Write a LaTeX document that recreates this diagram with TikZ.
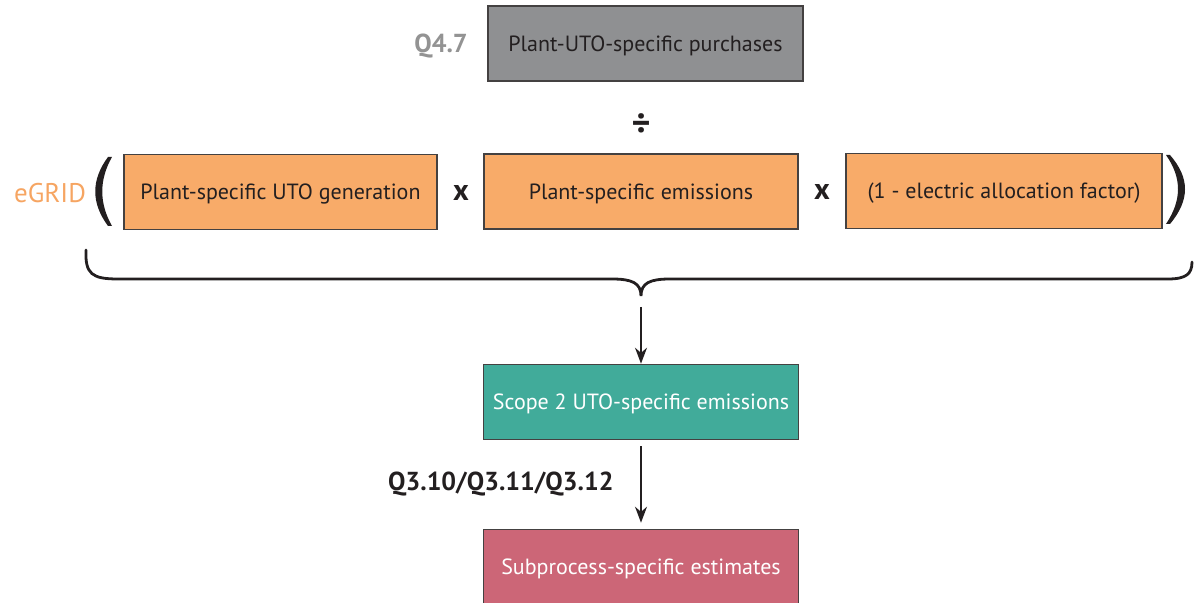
\documentclass[tikz,border=0pt]{standalone}
\usepackage{fontspec}
\setmainfont{PT Sans}
\usetikzlibrary{arrows.meta}
\definecolor{boxgray}{HTML}{8F9092}
\definecolor{boxorange}{HTML}{F8AB69}
\definecolor{boxteal}{HTML}{41AB9A}
\definecolor{boxpink}{HTML}{CC6677}
\definecolor{labgray}{HTML}{939393}
\definecolor{laborange}{HTML}{F6A562}
\definecolor{ink}{HTML}{231F20}
\tikzset{
  box/.style={draw=ink!85, line width=0.8pt, minimum height=37.5pt, inner sep=0pt, text height=8pt, text depth=0pt, font=\fontsize{11}{12}\selectfont, text=ink},
  graybox/.style={box, fill=boxgray},
  orangebox/.style={box, fill=boxorange},
  tealbox/.style={box, fill=boxteal, text=white},
  pinkbox/.style={box, fill=boxpink, text=white},
  oper/.style={font=\fontsize{15}{15}\bfseries\selectfont, text=ink},
  flow/.style={draw=ink, line width=0.8pt, -{Stealth[length=8pt,width=6pt]}},
}
\begin{document}
\begin{tikzpicture}[x=0.5pt,y=-0.5pt]
\useasboundingbox (0,0) rectangle (1194,603);
% top
\node[graybox, minimum width=157.5pt] (purch) at (645.5,43.5) {Plant-UTO-specific purchases};
\node[font=\fontsize{13}{14}\bfseries\selectfont, text=labgray] (q47) at (441,46) {Q4.7};
\node[oper, font=\fontsize{18}{18}\bfseries\selectfont] (div) at (641,125) {÷};
% orange row
\node[orangebox, minimum width=156.5pt] (gen) at (280.5,192) {Plant-specific UTO generation};
\node[orangebox, minimum width=157pt] (emis) at (641,191.5) {Plant-specific emissions};
\node[orangebox, minimum width=158pt] (alloc) at (1004,191) {(1 - electric allocation factor)};
\node[oper] (x1) at (461,193.5) {x};
\node[oper] (x2) at (822,192.5) {x};
\node[font=\fontsize{13.5}{14}\selectfont, text=laborange] (egrid) at (50,193) {eGRID};
% parentheses
\fill[ink] (108,157) .. controls (91,180) and (91,203) .. (108,226) -- (112,226) .. controls (99,203) and (99,180) .. (112,157) -- cycle;
\fill[ink] (1170,155) .. controls (1190,178) and (1190,200) .. (1170,224) -- (1166,224) .. controls (1182,200) and (1182,178) .. (1166,155) -- cycle;
% brace
\coordinate (bl) at (86,250);
\coordinate (br) at (1192,262);
\coordinate (btip) at (641,296);
\draw[ink, line width=1.4pt, line cap=round] (bl) .. controls (85,274) and (92,279) .. (118,279) -- (612,279) .. controls (632,279) and (641,283) .. (btip)
  .. controls (641,283) and (650,279) .. (670,279) -- (1168,279) .. controls (1186,279) and (1192,274) .. (br);
\coordinate (bstart) at (641,307);
% lower boxes
\node[tealbox, minimum width=157.5pt] (scope) at (641,402) {Scope 2 UTO-specific emissions};
\node[pinkbox, minimum width=157.5pt] (sub) at (641,567) {Subprocess-specific estimates};
\draw[flow] (bstart) -- (scope.north);
\draw[flow] ([yshift=-3pt]scope.south) -- node[left=10pt, font=\fontsize{13}{14}\bfseries\selectfont, text=ink] (qlab) {Q3.10/Q3.11/Q3.12} ([yshift=3pt]sub.north);
\end{tikzpicture}
\end{document}
